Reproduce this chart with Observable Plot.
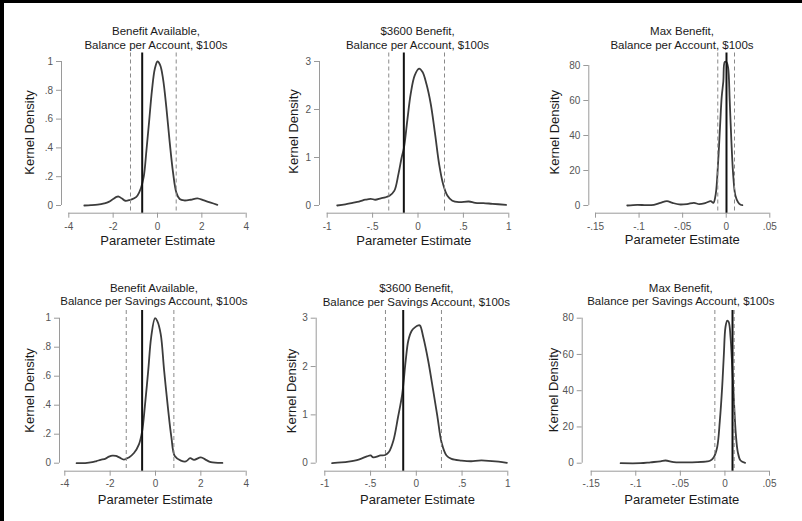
<!DOCTYPE html>
<html>
<head>
<meta charset="utf-8">
<script src="https://cdn.jsdelivr.net/npm/d3@7"></script>
<script src="https://cdn.jsdelivr.net/npm/@observablehq/plot@0.6"></script>
<style>
  body { margin: 0; background: #fff; }
  #wrap { position: relative; width: 802px; height: 521px; overflow: hidden; background: #fff;
          font-family: "Liberation Sans", Arial, Helvetica, sans-serif; }
  #wrap svg { position: absolute; left: 0; top: 0; pointer-events: none; }
  #border { position: absolute; left: 0; top: 0; width: 802px; height: 521px; box-sizing: border-box;
            border-top: 3px solid #000; border-left: 4px solid #000; pointer-events: none; }
</style>
</head>
<body>
<div id="wrap"><div id="border"></div></div>
<script>
// ---------------- DATA ----------------
const titles = [
  "Benefit Available,\nBalance per Account, $100s",
  "$3600 Benefit,\nBalance per Account, $100s",
  "Max Benefit,\nBalance per Account, $100s",
  "Benefit Available,\nBalance per Savings Account, $100s",
  "$3600 Benefit,\nBalance per Savings Account, $100s",
  "Max Benefit,\nBalance per Savings Account, $100s"
];
const xAxisTitle = "Parameter Estimate";
const yAxisTitle = "Kernel Density";

const xTicks = [
  [-4, -2, 0, 2, 4], [-1, -0.5, 0, 0.5, 1], [-0.15, -0.1, -0.05, 0, 0.05],
  [-4, -2, 0, 2, 4], [-1, -0.5, 0, 0.5, 1], [-0.15, -0.1, -0.05, 0, 0.05]
];
const xTickLabels = [
  ["-4", "-2", "0", "2", "4"], ["-1", "-.5", "0", ".5", "1"], ["-.15", "-.1", "-.05", "0", ".05"],
  ["-4", "-2", "0", "2", "4"], ["-1", "-.5", "0", ".5", "1"], ["-.15", "-.1", "-.05", "0", ".05"]
];
const yTicks = [
  [0, 0.2, 0.4, 0.6, 0.8, 1], [0, 1, 2, 3], [0, 20, 40, 60, 80],
  [0, 0.2, 0.4, 0.6, 0.8, 1], [0, 1, 2, 3], [0, 20, 40, 60, 80]
];
const yTickLabels = [
  ["0", ".2", ".4", ".6", ".8", "1"], ["0", "1", "2", "3"], ["0", "20", "40", "60", "80"],
  ["0", ".2", ".4", ".6", ".8", "1"], ["0", "1", "2", "3"], ["0", "20", "40", "60", "80"]
];

// density curves
const p1x = [-3.3,-3.0,-2.7,-2.4,-2.2,-2.0,-1.85,-1.75,-1.6,-1.45,-1.25,-1.05,-0.9,-0.75,-0.62,-0.5,-0.38,-0.25,-0.12,0,0.12,0.25,0.4,0.55,0.7,0.85,1.0,1.2,1.5,1.8,2.1,2.4,2.7];
const p1y = [0,0.002,0.006,0.015,0.025,0.045,0.06,0.062,0.048,0.033,0.038,0.05,0.07,0.12,0.2,0.38,0.58,0.8,0.95,1.0,0.975,0.88,0.68,0.44,0.23,0.09,0.045,0.035,0.04,0.05,0.035,0.02,0.005];

const p2x = [-0.89,-0.8,-0.72,-0.65,-0.58,-0.52,-0.47,-0.41,-0.36,-0.31,-0.26,-0.215,-0.18,-0.155,-0.118,-0.08,-0.036,0.012,0.05,0.093,0.14,0.188,0.232,0.276,0.323,0.378,0.45,0.56,0.63,0.72,0.82,0.97];
const p2y = [0,0.025,0.055,0.08,0.12,0.14,0.12,0.15,0.17,0.21,0.31,0.66,1.0,1.2,1.77,2.33,2.71,2.85,2.78,2.53,2.12,1.49,0.87,0.45,0.21,0.1,0.07,0.083,0.055,0.05,0.035,0.014];

const p3x = [-0.1136,-0.102,-0.092,-0.083,-0.0755,-0.068,-0.0617,-0.054,-0.045,-0.037,-0.031,-0.0235,-0.0178,-0.0147,-0.012,-0.0094,-0.0071,-0.0052,-0.0033,-0.0017,0.0002,0.0021,0.004,0.0059,0.0082,0.0105,0.0136,0.0166,0.0185];
const p3y = [0,0.4,0.2,0.4,1.5,2.5,1.5,0.6,0.8,1.5,0.8,1.5,2.5,1.5,6.7,24,45,62,71,82,82,79,60,37,16,5.7,1.9,0.4,0.2];

const p4x = [-3.48,-3.1,-2.79,-2.6,-2.42,-2.2,-2.05,-1.9,-1.75,-1.6,-1.39,-1.17,-0.95,-0.73,-0.59,-0.47,-0.32,-0.19,-0.02,0.08,0.23,0.38,0.55,0.7,0.85,1.12,1.34,1.53,1.7,2.0,2.22,2.44,2.95];
const p4y = [0,0.001,0.007,0.015,0.023,0.032,0.045,0.052,0.05,0.04,0.025,0.04,0.07,0.13,0.22,0.39,0.64,0.87,1.0,0.98,0.89,0.64,0.38,0.18,0.05,0.018,0.012,0.035,0.023,0.04,0.023,0.007,0.002];

const p5x = [-0.92,-0.82,-0.74,-0.63,-0.54,-0.5,-0.47,-0.39,-0.34,-0.30,-0.25,-0.2,-0.154,-0.116,-0.087,-0.05,-0.015,0.022,0.04,0.076,0.13,0.185,0.232,0.276,0.33,0.385,0.495,0.6,0.68,0.75,0.9,0.99];
const p5y = [0,0.015,0.034,0.076,0.14,0.16,0.12,0.16,0.17,0.23,0.47,0.95,1.43,2.12,2.54,2.74,2.81,2.85,2.85,2.61,2.12,1.5,0.95,0.43,0.16,0.09,0.055,0.04,0.055,0.055,0.034,0.007];

const p6x = [-0.117,-0.0947,-0.0835,-0.0723,-0.0667,-0.0573,-0.0461,-0.0311,-0.0199,-0.0162,-0.0125,-0.0087,-0.0057,-0.0031,-0.0012,0.0006,0.0026,0.0043,0.0063,0.0082,0.0101,0.0122,0.0145,0.0175,0.0227];
const p6y = [0,0,0.5,1.0,1.5,0.6,0.5,0.6,1.0,1.5,3.3,8.8,23.5,42,60,75,78.7,77.8,69.5,53,34.6,16.2,6,1.5,0.2];

const curveX = [p1x, p2x, p3x, p4x, p5x, p6x];
const curveY = [p1y, p2y, p3y, p4y, p5y, p6y];

// reference lines: point estimate (solid) and bounds (dashed)
const estimates = [-0.69, -0.156, 0.0003, -0.59, -0.143, 0.0085];
const lowerBounds = [-1.218, -0.322, -0.0097, -1.29, -0.337, -0.0113];
const upperBounds = [0.843, 0.292, 0.0095, 0.81, 0.275, 0.0104];

// ---------------- LAYOUT (pixels) ----------------
const W = 802, H = 521;
const layout = [
  {axisX: 61,    x0: 68.3,  x1: 245.7, top: 52.5, bottom: 212.7, y0: 205,   yT: 61,    tCx: 155.5, tCy: 37.2,  xlCx: 157.3, xlCy: 240,   ylX: 29,    ylCy: 132,   tickDy: 13.5},
  {axisX: 319,   x0: 326.7, x1: 508.3, top: 52.5, bottom: 212.7, y0: 205,   yT: 61,    tCx: 417,   tCy: 37.2,  xlCx: 413.3, xlCy: 240,   ylX: 293.3, ylCy: 131,   tickDy: 13.5},
  {axisX: 588.3, x0: 595,   x1: 769.3, top: 52.5, bottom: 212.7, y0: 205,   yT: 65,    tCx: 681.5, tCy: 37.2,  xlCx: 681.8, xlCy: 239.5, ylX: 554,   ylCy: 131.7, tickDy: 13.5},
  {axisX: 59,    x0: 64.3,  x1: 245.7, top: 310,  bottom: 470.7, y0: 462.7, yT: 317.7, tCx: 153.4, tCy: 293.7, xlCx: 154.8, xlCy: 499.3, ylX: 29.3,  ylCy: 390,   tickDy: 12.5},
  {axisX: 315.7, x0: 324.3, x1: 507.3, top: 310,  bottom: 470.7, y0: 462.7, yT: 317.7, tCx: 415.8, tCy: 294.3, xlCx: 417,   xlCy: 499.3, ylX: 291,   ylCy: 390.5, tickDy: 12.5},
  {axisX: 581.7, x0: 590.7, x1: 769,   top: 310,  bottom: 470.7, y0: 462.7, yT: 317.7, tCx: 680.3, tCy: 293.7, xlCx: 681.3, xlCy: 499.3, ylX: 553.3, ylCy: 389.5, tickDy: 12.5}
];

const axisColor = "#9a9a9a";
const tickTextColor = "#555";
const textColor = "#1a1a1a";

function panel(i) {
  const L = layout[i];
  const xt = xTicks[i], yt = yTicks[i];
  const xmin = xt[0], xmax = xt[xt.length - 1];
  const kx = (xmax - xmin) / (L.x1 - L.x0);           // data units per px
  const xDom = [xmin - (L.x0 - L.axisX) * kx, xmax];
  const ymaxT = yt[yt.length - 1];
  const ky = ymaxT / (L.y0 - L.yT);
  const yDom = [-(L.bottom - L.y0) * ky, (L.y0 - L.top) * ky];
  const frameCx = (L.axisX + L.x1) / 2;
  const frameCy = (L.top + L.bottom) / 2;
  const xLab = new Map(xt.map((v, j) => [v, xTickLabels[i][j]]));
  const yLab = new Map(yt.map((v, j) => [v, yTickLabels[i][j]]));
  const pts = curveX[i].map((x, j) => ({x, y: curveY[i][j]}));

  return Plot.plot({
    width: W, height: H,
    marginLeft: L.axisX, marginRight: W - L.x1,
    marginTop: L.top, marginBottom: H - L.bottom,
    x: {domain: xDom, axis: null},
    y: {domain: yDom, axis: null},
    style: {background: "transparent", fontFamily: "'Liberation Sans', Arial, Helvetica, sans-serif", overflow: "visible"},
    marks: [
      // axis lines
      Plot.ruleY([yDom[0]], {x1: xmin, x2: xmax, stroke: axisColor, strokeWidth: 1}),
      Plot.ruleX([xDom[0]], {y1: 0, y2: ymaxT, stroke: axisColor, strokeWidth: 1}),
      // x ticks
      Plot.ruleX(xt, {x: d => d, y1: yDom[0], y2: yDom[0] - 5 * ky, stroke: axisColor}),
      Plot.text(xt, {x: d => d, y: yDom[0], dy: L.tickDy, text: d => xLab.get(d), fill: tickTextColor, fontSize: 10, lineAnchor: "middle"}),
      // y ticks
      Plot.ruleY(yt, {y: d => d, x1: xDom[0], x2: xDom[0] - 5 * kx, stroke: axisColor}),
      Plot.text(yt, {x: xDom[0], y: d => d, dx: -8.5, text: d => yLab.get(d), fill: tickTextColor, fontSize: 10, textAnchor: "end", lineAnchor: "middle"}),
      // density
      Plot.line(pts, {x: "x", y: "y", curve: "catmull-rom", stroke: "#3c3c3c", strokeWidth: 1.8}),
      // reference lines
      Plot.ruleX([lowerBounds[i], upperBounds[i]], {stroke: "#8a8a8a", strokeWidth: 1, strokeDasharray: "4,3"}),
      Plot.ruleX([estimates[i]], {stroke: "#111", strokeWidth: 2}),
      // titles and labels
      Plot.text([titles[i]], {frameAnchor: "top", text: d => d, dx: L.tCx - frameCx, dy: L.tCy - L.top,
        lineAnchor: "middle", lineHeight: 1.18, fontSize: 11.5, fill: textColor}),
      Plot.text([xAxisTitle], {frameAnchor: "bottom", text: d => d, dx: L.xlCx - frameCx, dy: L.xlCy - L.bottom,
        lineAnchor: "middle", fontSize: 13, fill: textColor}),
      Plot.text([yAxisTitle], {frameAnchor: "left", text: d => d, rotate: -90, dx: L.ylX - L.axisX, dy: L.ylCy - frameCy,
        lineAnchor: "middle", textAnchor: "middle", fontSize: 13, fill: textColor})
    ]
  });
}

const wrap = document.getElementById("wrap");
const border = document.getElementById("border");
for (let i = 0; i < 6; i++) wrap.insertBefore(panel(i), border);
</script>
</body>
</html>
